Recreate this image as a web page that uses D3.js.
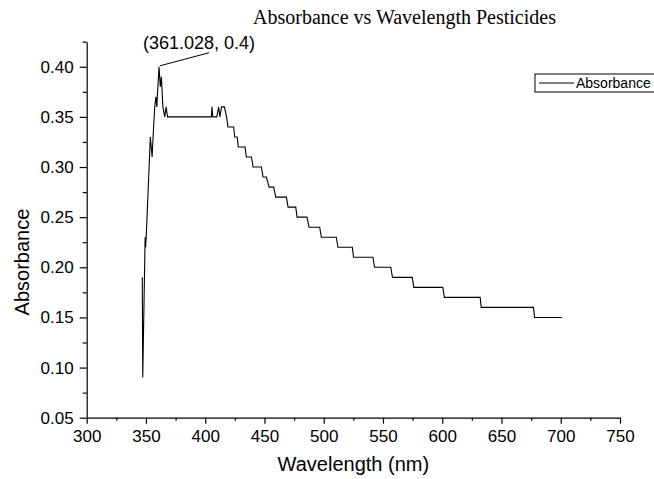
<!DOCTYPE html>
<html>
<head>
<meta charset="utf-8">
<script src="https://cdn.jsdelivr.net/npm/d3@7"></script>
<style>
  body { margin: 0; background: #fff; }
  svg { display: block; }
</style>
</head>
<body>
<svg id="chart"></svg>
<script>
// Absorbance spectrum
const wavelength = [
  346.9, 347.3, 349.3, 349.7, 350.2, 353.7, 355.2, 356.0, 357.4, 358.4,
  359.2, 359.6, 361.028, 362.1, 363.0, 364.3, 365.8, 367.0, 368.2, 405.2,
  405.7, 406.4, 409.8, 411.3, 412.4, 413.8, 416.2, 418.0, 419.2, 424.0,
  424.9, 427.0, 427.9, 433.6, 434.7, 439.0, 440.4, 447.4, 448.8, 451.6,
  453.9, 457.8, 459.5, 468.5, 469.9, 476.4, 477.5, 485.9, 487.6, 496.6,
  498.0, 510.6, 512.0, 524.1, 525.2, 541.5, 542.9, 556.6, 558.0, 574.7,
  576.0, 600.5, 601.8, 632.0, 632.9, 677.0, 677.9, 701.0
];
const absorbance = [
  0.19, 0.09, 0.23, 0.22, 0.23, 0.33, 0.31, 0.33, 0.36, 0.37,
  0.36, 0.37, 0.40, 0.38, 0.39, 0.36, 0.35, 0.36, 0.35, 0.35,
  0.36, 0.35, 0.35, 0.36, 0.35, 0.36, 0.36, 0.35, 0.34, 0.34,
  0.33, 0.33, 0.32, 0.32, 0.31, 0.31, 0.30, 0.30, 0.29, 0.29,
  0.28, 0.28, 0.27, 0.27, 0.26, 0.26, 0.25, 0.25, 0.24, 0.24,
  0.23, 0.23, 0.22, 0.22, 0.21, 0.21, 0.20, 0.20, 0.19, 0.19,
  0.18, 0.18, 0.17, 0.17, 0.16, 0.16, 0.15, 0.15
];

const xTicks = [300, 350, 400, 450, 500, 550, 600, 650, 700, 750];
const xMinor = [325, 375, 425, 475, 525, 575, 625, 675, 725];
const yTicks = [0.05, 0.10, 0.15, 0.20, 0.25, 0.30, 0.35, 0.40];
const yMinor = [0.075, 0.125, 0.175, 0.225, 0.275, 0.325, 0.375, 0.425];

const peak = { x: 361.028, y: 0.4 };

const width = 654;
const height = 479;
const margin = { top: 41.7, right: 34, bottom: 61.3, left: 86.7 };
const sans = "'Liberation Sans', Arial, sans-serif";
const serif = "'Liberation Serif', 'Times New Roman', serif";

const data = wavelength.map((w, i) => ({ w, a: absorbance[i] }));

const svg = d3.select("#chart")
  .attr("width", width)
  .attr("height", height);

const x = d3.scaleLinear()
  .domain([300, 750])
  .range([margin.left, width - margin.right]);

const y = d3.scaleLinear()
  .domain([0.05, 0.425])
  .range([height - margin.bottom, margin.top]);

// x axis, major + minor ticks
svg.append("g")
  .attr("transform", `translate(0,${height - margin.bottom})`)
  .call(d3.axisBottom(x).tickValues(xTicks).tickSize(6).tickSizeOuter(0).tickPadding(6))
  .call(g => g.selectAll("text").attr("font-size", 17).attr("font-family", sans).attr("fill", "#000"));

svg.append("g")
  .attr("transform", `translate(0,${height - margin.bottom})`)
  .call(d3.axisBottom(x).tickValues(xMinor).tickSize(3).tickFormat(""))
  .call(g => g.select(".domain").remove());

// y axis
svg.append("g")
  .attr("transform", `translate(${margin.left},0)`)
  .call(d3.axisLeft(y).tickValues(yTicks).tickFormat(d3.format(".2f")).tickSize(7).tickSizeOuter(0).tickPadding(6))
  .call(g => g.selectAll("text").attr("font-size", 17).attr("font-family", sans).attr("fill", "#000"));

svg.append("g")
  .attr("transform", `translate(${margin.left},0)`)
  .call(d3.axisLeft(y).tickValues(yMinor).tickSize(4).tickFormat(""))
  .call(g => g.select(".domain").remove());

svg.selectAll(".domain, .tick line").attr("stroke", "#000").attr("stroke-width", 1.2);

// spectrum line
svg.append("path")
  .datum(data)
  .attr("fill", "none")
  .attr("stroke", "#000")
  .attr("stroke-width", 1.1)
  .attr("d", d3.line().x(d => x(d.w)).y(d => y(d.a)));

// peak label
const px = x(peak.x), py = y(peak.y);
svg.append("line")
  .attr("x1", px + 1).attr("y1", py - 1)
  .attr("x2", px + 50).attr("y2", py - 14)
  .attr("stroke", "#000").attr("stroke-width", 1);
svg.append("text")
  .attr("x", px - 16).attr("y", py - 18)
  .attr("font-family", sans).attr("font-size", 18)
  .text(`(${peak.x}, ${peak.y})`);

// titles
svg.append("text")
  .attr("x", 253).attr("y", 24)
  .attr("font-family", serif).attr("font-size", 20)
  .text("Absorbance vs Wavelength Pesticides");

svg.append("text")
  .attr("x", (margin.left + width - margin.right) / 2)
  .attr("y", height - 8)
  .attr("text-anchor", "middle")
  .attr("font-family", sans).attr("font-size", 20)
  .text("Wavelength (nm)");

svg.append("text")
  .attr("transform", "translate(29,262) rotate(-90)")
  .attr("text-anchor", "middle")
  .attr("font-family", sans).attr("font-size", 20)
  .text("Absorbance");

// legend
const legend = svg.append("g").attr("transform", "translate(535,74)");
legend.append("rect")
  .attr("width", 130).attr("height", 18)
  .attr("fill", "#fff").attr("stroke", "#000").attr("stroke-width", 1);
legend.append("line")
  .attr("x1", 4).attr("x2", 39).attr("y1", 9).attr("y2", 9)
  .attr("stroke", "#000").attr("stroke-width", 1);
legend.append("text")
  .attr("x", 41).attr("y", 14)
  .attr("font-family", sans).attr("font-size", 14)
  .text("Absorbance");
</script>
</body>
</html>
